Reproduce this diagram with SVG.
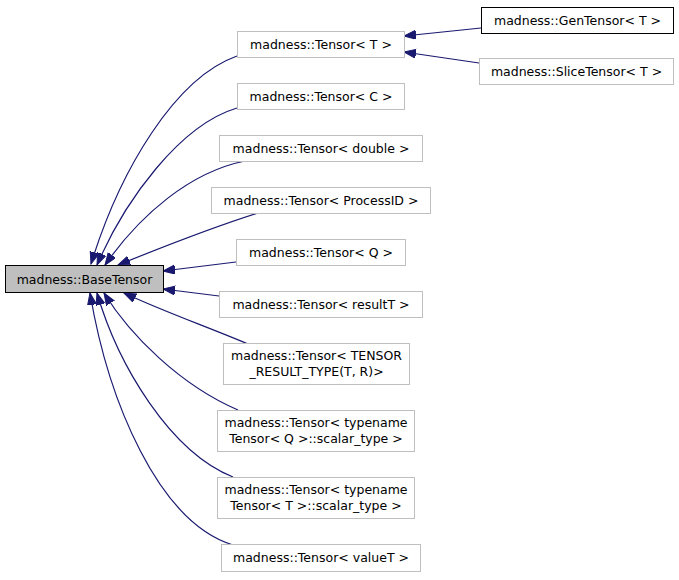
<svg xmlns="http://www.w3.org/2000/svg" width="679" height="580" viewBox="0 0 679 580">
<defs>
<style>
.n rect{fill:#ffffff;stroke:#bfbfbf;stroke-width:1}
.n text{font-family:"DejaVu Sans",sans-serif;font-size:12.5px;fill:#000;text-anchor:middle}
#n_base rect{fill:#bfbfbf;stroke:#000}
#n_gen rect{stroke:#000}
.e path{fill:none;stroke:#191970;stroke-width:1.2}
</style>
<marker id="ah" markerUnits="userSpaceOnUse" markerWidth="13" markerHeight="10" refX="12" refY="4.5" orient="auto">
<path d="M0,0 L12,4.5 L0,9 z" fill="#191970" stroke="#191970" stroke-width="1"/>
</marker>
</defs>
<rect width="679" height="580" fill="#ffffff"/>
<g id="edges" class="e">
<path d="M237,56 C175,78 120,170 91,264" marker-end="url(#ah)"/>
<path d="M237,108 C180,125 125,200 97,265" marker-end="url(#ah)"/>
<path d="M245,161 C190,172 140,215 105,265" marker-end="url(#ah)"/>
<path d="M258,213 C220,225 160,248 118,265" marker-end="url(#ah)"/>
<path d="M236,262 L163,271" marker-end="url(#ah)"/>
<path d="M219,296 L163,289" marker-end="url(#ah)"/>
<path d="M248,344 C205,326 160,310 124,293" marker-end="url(#ah)"/>
<path d="M238,410 C180,385 130,335 104,293" marker-end="url(#ah)"/>
<path d="M233,477 C170,452 118,365 97,293" marker-end="url(#ah)"/>
<path d="M233,545 C158,522 108,400 90,293" marker-end="url(#ah)"/>
<path d="M481,28 L404,36" marker-end="url(#ah)"/>
<path d="M479,63 L404,52" marker-end="url(#ah)"/>
</g>
<g id="n_base" class="n"><rect x="5.5" y="265.5" width="158" height="27"/><text x="84.5" y="283.5">madness::BaseTensor</text></g>
<g id="n_T" class="n"><rect x="237.5" y="31.5" width="167" height="26"/><text x="321" y="49">madness::Tensor&lt; T &gt;</text></g>
<g id="n_gen" class="n"><rect x="481.5" y="7.5" width="192" height="26"/><text x="577.5" y="25">madness::GenTensor&lt; T &gt;</text></g>
<g id="n_slice" class="n"><rect x="479.5" y="58.5" width="194" height="26"/><text x="576.5" y="76">madness::SliceTensor&lt; T &gt;</text></g>
<g id="n_C" class="n"><rect x="237.5" y="83.5" width="167" height="26"/><text x="321" y="101">madness::Tensor&lt; C &gt;</text></g>
<g id="n_double" class="n"><rect x="219.5" y="135.5" width="203" height="26"/><text x="321" y="153">madness::Tensor&lt; double &gt;</text></g>
<g id="n_pid" class="n"><rect x="211.5" y="187.5" width="219" height="26"/><text x="321" y="205">madness::Tensor&lt; ProcessID &gt;</text></g>
<g id="n_Q" class="n"><rect x="236.5" y="239.5" width="169" height="26"/><text x="321" y="257">madness::Tensor&lt; Q &gt;</text></g>
<g id="n_resultT" class="n"><rect x="219.5" y="291.5" width="203" height="26"/><text x="321" y="309">madness::Tensor&lt; resultT &gt;</text></g>
<g id="n_trt" class="n"><rect x="223.5" y="343.5" width="186" height="41"/><text x="316.5" y="360">madness::Tensor&lt; TENSOR</text><text x="316.5" y="376">_RESULT_TYPE(T, R)&gt;</text></g>
<g id="n_tnQ" class="n"><rect x="217.5" y="410.5" width="197" height="41"/><text x="316" y="427">madness::Tensor&lt; typename</text><text x="316" y="443">Tensor&lt; Q &gt;::scalar_type &gt;</text></g>
<g id="n_tnT" class="n"><rect x="217.5" y="477.5" width="197" height="41"/><text x="316" y="494">madness::Tensor&lt; typename</text><text x="316" y="510">Tensor&lt; T &gt;::scalar_type &gt;</text></g>
<g id="n_valueT" class="n"><rect x="221.5" y="544.5" width="199" height="27"/><text x="321" y="562">madness::Tensor&lt; valueT &gt;</text></g>
</svg>
